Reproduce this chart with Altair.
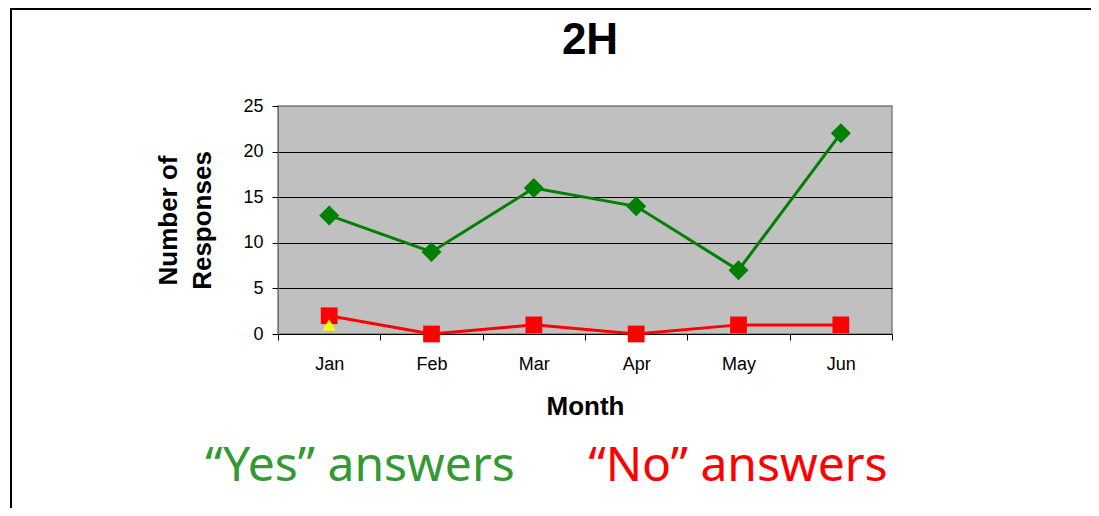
import altair as alt
import pandas as pd

# ---- data ----
months = ["Jan", "Feb", "Mar", "Apr", "May", "Jun"]
yes_answers = [13, 9, 16, 14, 7, 22]
no_answers = [2, 0, 1, 0, 1, 1]
other_months = ["Jan"]
other_answers = [1]
y_ticks = [0, 5, 10, 15, 20, 25]
chart_title = ["2H"]
yes_label = ["\u201cYes\u201d answers"]
no_label = ["\u201cNo\u201d answers"]

# ---- layout ----
W, H = 614, 228
PAD_L, PAD_T = 270, 98
TOTAL_W, TOTAL_H = 1083, 500
FONT = "Liberation Sans, Arial, sans-serif"

rows = []
for m, v in zip(months, yes_answers):
    rows.append({"month": m, "series": "Yes", "value": v})
for m, v in zip(months, no_answers):
    rows.append({"month": m, "series": "No", "value": v})
for m, v in zip(other_months, other_answers):
    rows.append({"month": m, "series": "Other", "value": v})
df = pd.DataFrame(rows)

x_enc = alt.X(
    "month:N",
    sort=months,
    scale=alt.Scale(type="band", paddingInner=0, paddingOuter=0),
    axis=alt.Axis(
        title="Month",
        titleFont=FONT, titleFontSize=26, titleFontWeight="bold", titleColor="black",
        titleBaseline="alphabetic", titleY=80,
        labelFont=FONT, labelFontSize=18, labelColor="black", labelAngle=0,
        labelBaseline="alphabetic", labelPadding=29,
        tickBand="extent", ticks=True, tickSize=6, tickColor="black",
        domainColor="black", domainWidth=1, grid=False,
    ),
)
y_enc = alt.Y(
    "value:Q",
    scale=alt.Scale(domain=[0, 25], nice=False),
    axis=alt.Axis(
        title=["Number of", "Responses"],
        titleFont=FONT, titleFontSize=26, titleFontWeight="bold", titleColor="black",
        titleAngle=270, titleAlign="center", titleBaseline="alphabetic",
        titleX=-102, titleY=H / 2, titleLineHeight=34,
        values=y_ticks,
        labelFont=FONT, labelFontSize=18, labelColor="black", labelPadding=9,
        ticks=True, tickSize=6, tickColor="black",
        domainColor="#707070", domainWidth=1,
        grid=True, gridWidth=1,
        gridColor={"condition": {"test": "datum.value === 25", "value": "#808080"}, "value": "black"},
    ),
)

base = alt.Chart(df).encode(x=x_enc, y=y_enc)

yes_line = base.transform_filter("datum.series === 'Yes'").mark_line(color="#008000", strokeWidth=3)
yes_pts = base.transform_filter("datum.series === 'Yes'").mark_point(
    shape="diamond", filled=True, size=400, color="#008000", opacity=1)
no_line = base.transform_filter("datum.series === 'No'").mark_line(color="#FF0000", strokeWidth=3)
no_pts = base.transform_filter("datum.series === 'No'").mark_square(size=280, color="#FF0000", opacity=1)
other_pts = base.transform_filter("datum.series === 'Other'").mark_point(
    shape="triangle-up", filled=True, size=170, color="#FFFF00", opacity=1)

title_text = alt.Chart(pd.DataFrame({"label": chart_title})).mark_text(
    font=FONT, fontSize=44, fontWeight="bold", color="black", align="center", baseline="alphabetic"
).encode(text="label:N", x=alt.value(W / 2 + 5), y=alt.value(-52))
yes_text = alt.Chart(pd.DataFrame({"label": yes_label})).mark_text(
    font="Noto Sans", fontSize=48, color="#339933", align="center", baseline="alphabetic"
).encode(text="label:N", x=alt.value(82), y=alt.value(375))
no_text = alt.Chart(pd.DataFrame({"label": no_label})).mark_text(
    font="Noto Sans", fontSize=48, color="#FF0000", align="center", baseline="alphabetic"
).encode(text="label:N", x=alt.value(460), y=alt.value(375))

frame_left = alt.Chart(pd.DataFrame({"k": [0]})).mark_rule(color="black", strokeWidth=2).encode(
    x=alt.value(3 - PAD_L), y=alt.value(-PAD_T), y2=alt.value(TOTAL_H - PAD_T))
frame_top = alt.Chart(pd.DataFrame({"k": [0]})).mark_rule(color="black", strokeWidth=2).encode(
    x=alt.value(2 - PAD_L), x2=alt.value(TOTAL_W - PAD_L), y=alt.value(1 - PAD_T))

chart = alt.layer(
    yes_line, yes_pts, no_line, no_pts, other_pts,
    title_text, yes_text, no_text, frame_left, frame_top
).properties(
    width=W,
    height=H,
    autosize=alt.AutoSizeParams(type="none"),
    padding={"left": PAD_L, "top": PAD_T, "right": TOTAL_W - PAD_L - W, "bottom": TOTAL_H - PAD_T - H},
    background="white",
).configure_view(fill="#C0C0C0", stroke="#808080", strokeWidth=1.5)

chart.save("out.html", embed_options={"renderer": "svg", "actions": False})
